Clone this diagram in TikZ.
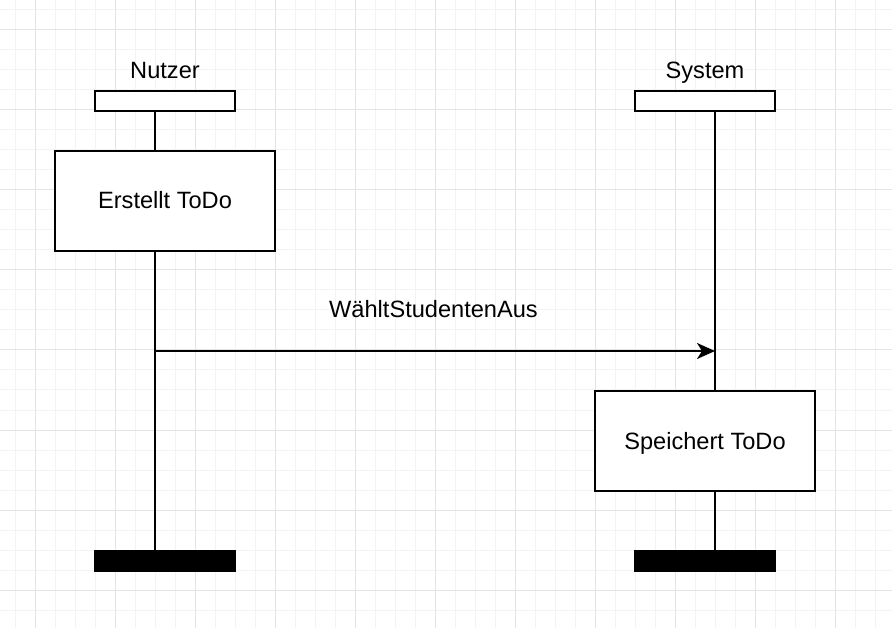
\documentclass[tikz,border=0pt]{standalone}
\usepackage{fontspec}
\setmainfont{Liberation Sans}
\usetikzlibrary{arrows.meta}
\definecolor{gridminor}{HTML}{F3F3F3}
\definecolor{gridmajor}{HTML}{E4E4E4}
\begin{document}
\begin{tikzpicture}[x=1pt,y=-1pt,
  every node/.style={font=\fontsize{23.6}{28}\selectfont},
  hdrbox/.style={draw=black,line width=2pt,fill=white,minimum width=140pt,minimum height=20pt,inner sep=0pt},
  actbox/.style={draw=black,line width=2pt,fill=white,minimum width=220pt,minimum height=100pt,inner sep=0pt},
  endbar/.style={fill=black,minimum width=142pt,minimum height=22pt,inner sep=0pt},
  lifeline/.style={line width=2pt},
  msg/.style={line width=2pt,-{Stealth[length=18pt,width=16pt,inset=5pt]}},
  lbl/.style={inner sep=0pt,anchor=base}]
\fill[white] (0,0) rectangle (892,628);
\useasboundingbox (0,0) rectangle (892,628);
% grid
\foreach \x in {15,35,...,892} {\draw[gridminor,line width=1pt] (\x,0) -- (\x,628);}
\foreach \y in {10,30,...,628} {\draw[gridminor,line width=1pt] (0,\y) -- (892,\y);}
\foreach \x in {35,115,...,892} {\draw[gridmajor,line width=1pt] (\x,0) -- (\x,628);}
\foreach \y in {30,110,...,628} {\draw[gridmajor,line width=1pt] (0,\y) -- (892,\y);}
% lifeline x positions
\coordinate (lN) at (155,0);
\coordinate (lS) at (715,0);
% actors
\node[lbl] (tN) at (165,79) {Nutzer};
\node[lbl] (tS) at (705,79) {System};
\node[hdrbox] (hN) at (165,101) {};
\node[hdrbox] (hS) at (705,101) {};
\node[actbox] (bN) at (165,201) {};
\node[actbox] (bS) at (705,441) {};
\node[lbl] (bNt) at (165,209) {Erstellt ToDo};
\node[lbl] (bSt) at (705,449) {Speichert ToDo};
\node[endbar] (eN) at (165,561) {};
\node[endbar] (eS) at (705,561) {};
% lifelines
\draw[lifeline] (lN |- hN.south) -- (lN |- bN.north);
\draw[lifeline] (lN |- bN.south) -- (lN |- eN.north);
\draw[lifeline] (lS |- hS.south) -- (lS |- bS.north);
\draw[lifeline] (lS |- bS.south) -- (lS |- eS.north);
% message
\coordinate (mA) at (155,351);
\coordinate (mB) at (715,351);
\draw[msg] (mA) -- (mB);
\node[lbl] (mL) at (433.5,318) {WähltStudentenAus};
\end{tikzpicture}
\end{document}
